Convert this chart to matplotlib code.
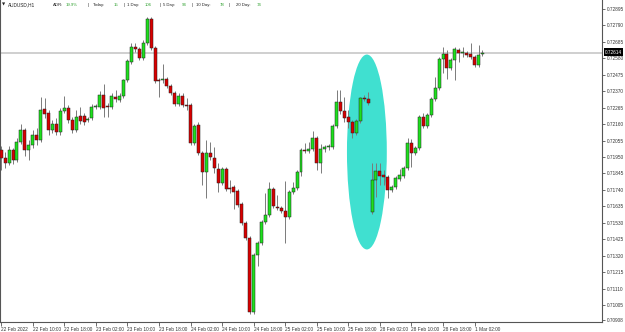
import matplotlib
matplotlib.use("Agg")
import matplotlib.pyplot as plt
from matplotlib.patches import Rectangle, Ellipse

# AUDUSD H1 candles, 22 Feb 02:00 .. 1 Mar 04:00
opens = [0.71995, 0.71944, 0.71912, 0.71995, 0.71931, 0.72046, 0.72123, 0.71995, 0.72027, 0.72091,
         0.72059, 0.72257, 0.72231, 0.72123, 0.72161, 0.72110, 0.72244, 0.72263, 0.72186, 0.72123,
         0.72212, 0.72212, 0.72186, 0.72199, 0.72269, 0.72269, 0.72346, 0.72276, 0.72269, 0.72333,
         0.72314, 0.72340, 0.72442, 0.72556, 0.72652, 0.72639, 0.72582, 0.72678, 0.72831, 0.72646,
         0.72442, 0.72442, 0.72448, 0.72403, 0.72359, 0.72288, 0.72340, 0.72282, 0.72282, 0.72039,
         0.72154, 0.71976, 0.71855, 0.71976, 0.71944, 0.71874, 0.71784, 0.71874, 0.71752, 0.71759,
         0.71733, 0.71650, 0.71529, 0.71434, 0.70961, 0.71325, 0.71401, 0.71536, 0.71580, 0.71746,
         0.71631, 0.71625, 0.71606, 0.71567, 0.71727, 0.71752, 0.71855, 0.71995, 0.71988, 0.72001,
         0.72072, 0.71912, 0.72001, 0.72014, 0.72014, 0.72148, 0.72301, 0.72244, 0.72205, 0.72174,
         0.72103, 0.72180, 0.72327, 0.72320, 0.71599, 0.71804, 0.71861, 0.71835, 0.71823, 0.71740,
         0.71759, 0.71810, 0.71829, 0.71880, 0.72039, 0.71976, 0.72008, 0.72205, 0.72148, 0.72218,
         0.72320, 0.72391, 0.72576, 0.72607, 0.72518, 0.72569, 0.72633, 0.72614, 0.72614, 0.72607,
         0.72588, 0.72537, 0.72607]
highs = [0.72020, 0.71982, 0.72020, 0.72008, 0.72072, 0.72161, 0.72135, 0.72059, 0.72123, 0.72135,
         0.72333, 0.72327, 0.72250, 0.72186, 0.72199, 0.72263, 0.72340, 0.72282, 0.72205, 0.72250,
         0.72269, 0.72231, 0.72205, 0.72288, 0.72288, 0.72371, 0.72416, 0.72295, 0.72359, 0.72378,
         0.72359, 0.72448, 0.72576, 0.72678, 0.72678, 0.72652, 0.72697, 0.72843, 0.72843, 0.72659,
         0.72454, 0.72544, 0.72461, 0.72416, 0.72371, 0.72359, 0.72359, 0.72327, 0.72295, 0.72161,
         0.72174, 0.71988, 0.72059, 0.72046, 0.72014, 0.71912, 0.71887, 0.71887, 0.71804, 0.71772,
         0.71746, 0.71663, 0.71542, 0.71446, 0.71338, 0.71414, 0.71548, 0.71721, 0.71791, 0.71759,
         0.71708, 0.71637, 0.71797, 0.71740, 0.71791, 0.71867, 0.72008, 0.72039, 0.72046, 0.72116,
         0.72084, 0.72033, 0.72027, 0.72033, 0.72161, 0.72378, 0.72378, 0.72333, 0.72250, 0.72186,
         0.72193, 0.72333, 0.72346, 0.72365, 0.71912, 0.71912, 0.71912, 0.71867, 0.71835, 0.71772,
         0.71829, 0.71874, 0.71893, 0.72072, 0.72065, 0.72020, 0.72218, 0.72231, 0.72231, 0.72333,
         0.72461, 0.72588, 0.72652, 0.72633, 0.72582, 0.72652, 0.72646, 0.72652, 0.72627, 0.72678,
         0.72601, 0.72665, 0.72633]
lows = [0.71867, 0.71880, 0.71899, 0.71906, 0.71918, 0.72033, 0.71957, 0.71931, 0.72008, 0.72027,
        0.72046, 0.72199, 0.72091, 0.72103, 0.72091, 0.72091, 0.72231, 0.72167, 0.72103, 0.72110,
        0.72161, 0.72154, 0.72174, 0.72186, 0.72257, 0.72257, 0.72205, 0.72205, 0.72257, 0.72301,
        0.72301, 0.72327, 0.72429, 0.72544, 0.72620, 0.72569, 0.72569, 0.72665, 0.72633, 0.72422,
        0.72333, 0.72422, 0.72391, 0.72346, 0.72276, 0.72276, 0.72269, 0.72250, 0.72027, 0.72027,
        0.71963, 0.71772, 0.71689, 0.71931, 0.71848, 0.71727, 0.71772, 0.71733, 0.71721, 0.71618,
        0.71631, 0.71517, 0.71421, 0.70948, 0.70948, 0.71255, 0.71389, 0.71523, 0.71567, 0.71625,
        0.71612, 0.71593, 0.71401, 0.71555, 0.71714, 0.71740, 0.71829, 0.71976, 0.71976, 0.71988,
        0.71867, 0.71848, 0.71982, 0.71995, 0.72001, 0.72135, 0.72225, 0.72174, 0.72135, 0.72072,
        0.72091, 0.72167, 0.72308, 0.72282, 0.71587, 0.71695, 0.71772, 0.71772, 0.71689, 0.71727,
        0.71746, 0.71797, 0.71816, 0.71867, 0.71887, 0.71963, 0.71995, 0.72135, 0.72135, 0.72205,
        0.72308, 0.72378, 0.72486, 0.72448, 0.72505, 0.72442, 0.72556, 0.72588, 0.72588, 0.72576,
        0.72525, 0.72525, 0.72595]
closes = [0.71944, 0.71912, 0.71995, 0.71931, 0.72046, 0.72123, 0.71995, 0.72027, 0.72091, 0.72059,
          0.72250, 0.72225, 0.72123, 0.72161, 0.72110, 0.72244, 0.72263, 0.72186, 0.72123, 0.72205,
          0.72180, 0.72174, 0.72193, 0.72269, 0.72276, 0.72346, 0.72263, 0.72269, 0.72340, 0.72320,
          0.72340, 0.72442, 0.72563, 0.72652, 0.72639, 0.72582, 0.72678, 0.72831, 0.72646, 0.72435,
          0.72435, 0.72448, 0.72403, 0.72359, 0.72288, 0.72340, 0.72282, 0.72276, 0.72039, 0.72148,
          0.71976, 0.71855, 0.71976, 0.71950, 0.71880, 0.71784, 0.71874, 0.71746, 0.71746, 0.71727,
          0.71644, 0.71529, 0.71434, 0.70961, 0.71325, 0.71401, 0.71536, 0.71580, 0.71746, 0.71637,
          0.71625, 0.71606, 0.71567, 0.71727, 0.71752, 0.71855, 0.71995, 0.71988, 0.72001, 0.72072,
          0.71912, 0.72001, 0.72014, 0.72020, 0.72148, 0.72301, 0.72244, 0.72199, 0.72174, 0.72103,
          0.72180, 0.72327, 0.72320, 0.72295, 0.71804, 0.71861, 0.71829, 0.71823, 0.71740, 0.71759,
          0.71816, 0.71835, 0.71880, 0.72039, 0.71976, 0.72008, 0.72205, 0.72148, 0.72218, 0.72320,
          0.72391, 0.72576, 0.72607, 0.72518, 0.72569, 0.72639, 0.72614, 0.72620, 0.72601, 0.72588,
          0.72537, 0.72601, 0.72614]

x_labels = ["22 Feb 2022", "22 Feb 10:00", "22 Feb 18:00", "23 Feb 02:00", "23 Feb 10:00",
            "23 Feb 18:00", "24 Feb 02:00", "24 Feb 10:00", "24 Feb 18:00", "25 Feb 02:00",
            "25 Feb 10:00", "25 Feb 18:00", "28 Feb 02:00", "28 Feb 10:00", "28 Feb 18:00",
            "1 Mar 02:00"]
y_ticks = [0.72895, 0.72790, 0.72685, 0.72580, 0.72475, 0.72370, 0.72265, 0.72160, 0.72055,
           0.71950, 0.71845, 0.71740, 0.71635, 0.71530, 0.71425, 0.71320, 0.71215, 0.71110,
           0.71005, 0.70908]
last_price = 0.72614

symbol = "AUDUSD,H1"
adr_names = ["ADR:", "Today:", "1 Day:", "5 Day:", "10 Day:", "20 Day:"]
adr_values = ["19.9%", "15", "106", "94", "78", "74"]

BULL = "#1ee01e"
BEAR = "#d80000"
W, H = 625, 332

plt.rcParams["font.family"] = ["Liberation Sans", "DejaVu Sans"]
fig = plt.figure(figsize=(W / 100, H / 100), dpi=100)
ax = fig.add_axes([0, 10 / H, 602 / W, 322 / H])

n = len(opens)
for i in range(n):
    o, h, l, c = opens[i], highs[i], lows[i], closes[i]
    ax.vlines(i, l, h, color="#7a7a7a", lw=0.7, zorder=3)
    col = BULL if c >= o else BEAR
    lo, hi = min(o, c), max(o, c)
    ax.add_patch(Rectangle((i - 0.38, lo), 0.76, max(hi - lo, 0.00002),
                           facecolor=col, edgecolor="#202020", lw=0.35, zorder=4))

# highlight ellipse
ax.add_patch(Ellipse((92.7, 0.71982), 10.1, 0.01244, facecolor="#40e0d0",
                     edgecolor="none", zorder=1))

ax.axhline(last_price, color="#cccccc", lw=1.3, zorder=2)

ax.set_xlim(-0.3, 152.3)
ax.set_ylim(0.70897, 0.72952)

ax.spines["top"].set_visible(False)
for s in ["left", "right", "bottom"]:
    ax.spines[s].set_color("#555555")
    ax.spines[s].set_linewidth(0.8)

ax.yaxis.tick_right()
ax.set_yticks(y_ticks)
ax.set_yticklabels([f"{v:.5f}" for v in y_ticks])
ax.tick_params(axis="y", direction="out", length=2, width=0.6, color="#555555",
               labelsize=3.4, pad=1.5, labelcolor="#333333")

ax.set_xticks(range(0, 8 * len(x_labels), 8))
ax.set_xticklabels(x_labels, ha="left")
ax.tick_params(axis="x", direction="out", length=3, width=0.6, color="#555555",
               labelsize=3.4, pad=0.8, labelcolor="#333333")

# last price tag
fig.text(613.5 / W, 1 - 52 / H, f"{last_price:.5f}", fontsize=3.4, color="white",
         ha="center", va="center",
         bbox=dict(boxstyle="square,pad=0.25", facecolor="black", edgecolor="none"))

# header
ty = 1 - 5 / H
fig.text(2 / W, ty, "\u25bc", fontsize=3.0, color="#222222", va="center",
         family=["DejaVu Sans"])
fig.text(8 / W, ty, symbol, fontsize=3.4, color="#222222", va="center")
name_x = [53, 93, 127, 163, 196, 236]
val_x = [66, 114, 145, 182, 220, 257]
bar_x = [88, 124, 160, 192, 229]
for i in range(len(adr_names)):
    fig.text(name_x[i] / W, ty, adr_names[i], fontsize=3.1, color="#222222", va="center")
    fig.text(val_x[i] / W, ty, adr_values[i], fontsize=3.1, color="#2ea02e", va="center")
for bx in bar_x:
    fig.text(bx / W, ty, "|", fontsize=3.1, color="#222222", va="center")

fig.savefig("out.png", dpi=100, facecolor="white")
